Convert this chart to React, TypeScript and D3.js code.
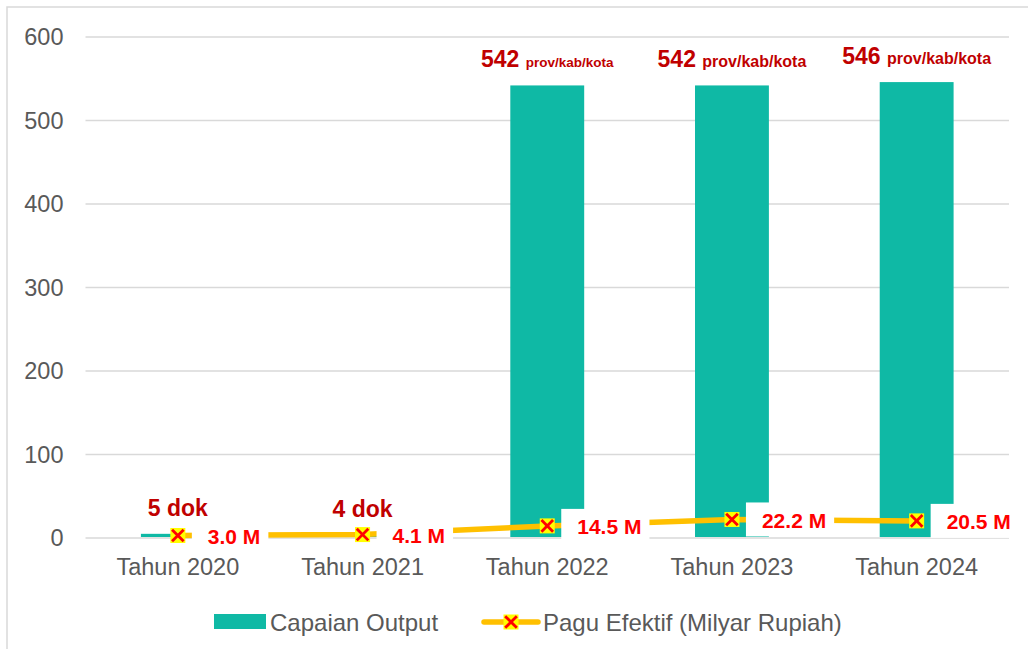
import React from "react";
import * as d3 from "d3";

const categories = ["Tahun 2020", "Tahun 2021", "Tahun 2022", "Tahun 2023", "Tahun 2024"];
const outputValues = [5, 4, 542, 542, 546];
const outputNumLabels = ["5", "4", "542", "542", "546"];
const outputUnitLabels = ["dok", "dok", "prov/kab/kota", "prov/kab/kota", "prov/kab/kota"];
const paguValues = [3.0, 4.1, 14.5, 22.2, 20.5];
const paguLabels = ["3.0 M", "4.1 M", "14.5 M", "22.2 M", "20.5 M"];
const yTicks = [0, 100, 200, 300, 400, 500, 600];
const seriesNames = ["Capaian Output", "Pagu Efektif (Milyar Rupiah)"];

const W = 1028;
const H = 649;
const FONT = "'Liberation Sans', Arial, sans-serif";
const TEAL = "#0FB9A5";
const GOLD = "#FFC000";
const DARKRED = "#C00000";
const RED = "#FF0000";
const GRID = "#D9D9D9";
const TXT = "#595959";

function measure(text: string, size: number, bold: boolean) {
  if (typeof document === "undefined") return text.length * size * 0.55;
  const c = (measure as any).c || ((measure as any).c = document.createElement("canvas"));
  const ctx = c.getContext("2d");
  ctx.font = `${bold ? "bold " : ""}${size}px 'Liberation Sans', Arial, sans-serif`;
  return ctx.measureText(text).width;
}

function Marker({ cx, cy }: { cx: number; cy: number }) {
  const s = 7.5;
  const a = 5.8;
  return (
    <g>
      <rect x={cx - s} y={cy - s} width={2 * s} height={2 * s} fill="#FFFF00" />
      <line x1={cx - a} y1={cy - a} x2={cx + a} y2={cy + a} stroke={RED} strokeWidth={2.8} />
      <line x1={cx - a} y1={cy + a} x2={cx + a} y2={cy - a} stroke={RED} strokeWidth={2.8} />
    </g>
  );
}

export default function App() {
  const x = d3.scaleBand<string>().domain(categories).range([85.5, 1009]).paddingInner(0.6).paddingOuter(0.3);
  const y = d3.scaleLinear().domain([0, 600]).range([538, 37]);
  const cx = (c: string) => (x(c) as number) + x.bandwidth() / 2;

  const line = d3
    .line<number>()
    .x((_, i) => cx(categories[i]))
    .y((d) => y(d));

  const labelSize = 21;
  const legendY = 622;

  return (
    <svg width={W} height={H} style={{ position: "absolute", left: 0, top: 0, fontFamily: FONT }}>
      <rect x={0} y={0} width={W} height={H} fill="#fff" />
      <rect x={7} y={7} width={W + 20} height={H + 20} fill="none" stroke={GRID} strokeWidth={1.5} />

      {yTicks.map((t) => (
        <g key={t}>
          <line x1={85.5} x2={1009} y1={y(t)} y2={y(t)} stroke={GRID} strokeWidth={1.4} />
          <text x={63.5} y={y(t)} textAnchor="end" dominantBaseline="central" fontSize={23.5} fill={TXT}>
            {t}
          </text>
        </g>
      ))}

      {categories.map((c, i) => (
        <rect
          key={c}
          x={x(c)}
          y={y(outputValues[i])}
          width={x.bandwidth()}
          height={y(0) - 1 - y(outputValues[i])}
          fill={TEAL}
        />
      ))}

      <path d={line(paguValues) || ""} fill="none" stroke={GOLD} strokeWidth={5.5} strokeLinejoin="round" />

      {categories.map((c, i) => (
        <Marker key={c} cx={cx(c)} cy={y(paguValues[i])} />
      ))}

      {categories.map((c, i) => {
        const px = cx(c);
        const py = y(paguValues[i]);
        const tw = measure(paguLabels[i], labelSize, true);
        const tx = px + 30;
        return (
          <g key={c}>
            <rect x={px + 14} y={py - 17} width={tx + tw + 8 - (px + 14)} height={34} fill="#fff" />
            <text x={tx} y={py + 1} dominantBaseline="central" fontSize={labelSize} fontWeight="bold" fill={RED}>
              {paguLabels[i]}
            </text>
          </g>
        );
      })}

      {categories.map((c, i) => {
        const big = outputUnitLabels[i] !== "dok";
        const numSize = 23;
        const unitSize = !big ? 23 : i === 2 ? 13.5 : 16;
        return (
          <text
            key={c}
            x={cx(c)}
            y={y(outputValues[i]) - 18}
            textAnchor="middle"
            fontWeight="bold"
            fill={DARKRED}
            fontSize={numSize}
          >
            <tspan>{outputNumLabels[i]} </tspan>
            <tspan fontSize={unitSize}>{outputUnitLabels[i]}</tspan>
          </text>
        );
      })}

      {categories.map((c) => (
        <text key={c} x={cx(c)} y={574.5} textAnchor="middle" fontSize={23.5} fill={TXT}>
          {c}
        </text>
      ))}

      <g>
        <rect x={214} y={legendY - 8} width={52} height={15} fill={TEAL} />
        <text x={270} y={legendY} dominantBaseline="central" fontSize={24} fill={TXT}>
          {seriesNames[0]}
        </text>
        <line x1={484} x2={538} y1={legendY} y2={legendY} stroke={GOLD} strokeWidth={5.5} strokeLinecap="round" />
        <Marker cx={511} cy={legendY} />
        <text x={543} y={legendY} dominantBaseline="central" fontSize={24} fill={TXT}>
          {seriesNames[1]}
        </text>
      </g>
    </svg>
  );
}
